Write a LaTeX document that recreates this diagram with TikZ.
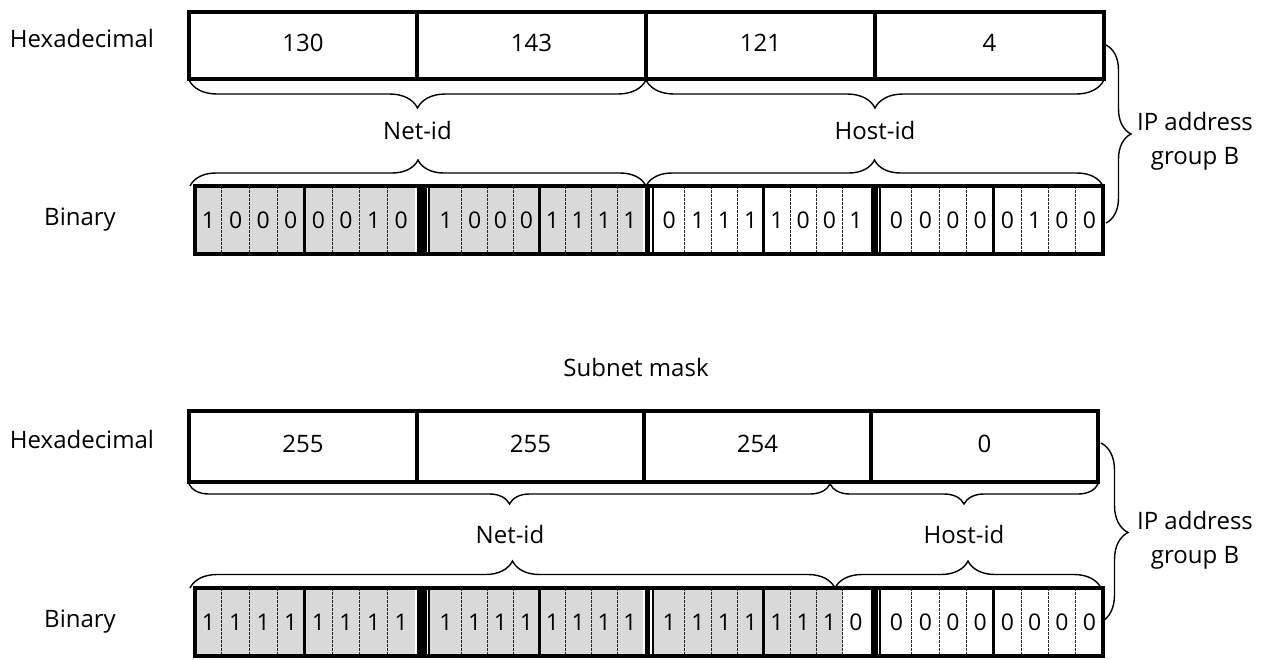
\documentclass[tikz,border=0pt]{standalone}
\usepackage{fontspec}
\setmainfont{Open Sans}
\usetikzlibrary{decorations.pathreplacing}
\definecolor{bitfill}{RGB}{217,217,217}

% One binary row: #1 name prefix, #2 top y, #3 bottom y, #4 number of shaded bits,
% #5-#8 the bits of the four bytes
\newcommand\binrow[8]{%
  \foreach \L/\R/\s/\bits [count=\k from 0] in
      {195/415/27.6/{#5}, 430/643/25.9/{#6}, 653.5/869/26.3/{#7}, 881/1103/27.3/{#8}} {
    \foreach \b [count=\j from 0] in \bits {
      \pgfmathsetmacro\xl{\j==0 ? \L : \R-\s*(8-\j)}
      \pgfmathsetmacro\xr{\R-\s*(7-\j)}
      \pgfmathtruncatemacro\idx{8*\k+\j}
      \ifnum\idx<#4 \fill[bitfill] (\xl,#2) rectangle (\xr,#3);\fi
      \node[digit] (#1-\idx) at ({(\xl+\xr)/2},{(#2+#3)/2}) {\b};
      \ifnum\j>0
        \ifnum\j=4
          \draw[nibble] (\xl,#2) -- (\xl,#3);
        \else
          \draw[bitdash] (\xl,#2) -- (\xl,#3);
        \fi
      \fi
    }
  }
  % byte separators: thick bar, thin white gap, thin bar
  \foreach \a/\c in {415/430, 643/653.5, 869/881} {
    \fill[black] (\a+1.5,#2) rectangle (\c-3.5,#3);
    \fill[black] (\c-2,#2) rectangle (\c,#3);
  }
  \draw[frame] (195,#2) rectangle (1103,#3);
}

\begin{document}
\begin{tikzpicture}[x=1pt,y=-1pt,
  lbl/.style={font=\fontsize{24}{30}\selectfont, inner sep=0pt, text height=0.714em, text depth=0pt, yshift=-4pt},
  digit/.style={font=\fontsize{23}{30}\selectfont, inner sep=0pt, text height=0.714em, text depth=0pt, yshift=-5pt},
  side/.style={font=\fontsize{24}{34}\selectfont, inner sep=0pt, align=center, yshift=-5pt},
  frame/.style={line width=4.2pt},
  divider/.style={line width=4.2pt},
  bitdash/.style={line width=1pt, dash pattern=on 2.5pt off 1.5pt, black!85},
  nibble/.style={line width=3pt},
  curly/.style={decorate, decoration={brace, amplitude=#1}, line width=1.4pt},
]
\useasboundingbox (0,0) rectangle (1272,659);

% ---------------- IP address ----------------
\node[lbl] (hexA) at (82,40) {Hexadecimal};
\node[lbl] (binA) at (80,218) {Binary};

\draw[frame] (189,12) rectangle (1104,79);
\foreach \x in {417,646,875} \draw[divider] (\x,12) -- (\x,79);
\node[lbl] (hA1) at (303,43.5) {130};
\node[lbl] (hA2) at (531.5,43.5) {143};
\node[lbl] (hA3) at (760.5,43.5) {121};
\node[lbl] (hA4) at (989.5,43.5) {4};

\binrow{bA}{186}{254}{16}{1,0,0,0,0,0,1,0}{1,0,0,0,1,1,1,1}{0,1,1,1,1,0,0,1}{0,0,0,0,0,1,0,0}

\coordinate (nAu1) at (189,80);  \coordinate (nAu2) at (646,80);
\coordinate (hAu2) at (1104,80);
\coordinate (nAl1) at (190,186); \coordinate (nAl2) at (646,186);
\coordinate (hAl2) at (1103,186);
\draw[curly=28pt] (nAu2) -- (nAu1);
\draw[curly=28pt] (hAu2) -- (nAu2);
\draw[curly=26pt] (nAl1) -- (nAl2);
\draw[curly=26pt] (nAl2) -- (hAl2);
\node[lbl] (netA) at (417.5,132) {Net-id};
\node[lbl] (hostA) at (875,132) {Host-id};

\coordinate (gAt) at (1106,45); \coordinate (gAb) at (1106,223);
\draw[curly=25pt] (gAt) -- (gAb);
\node[side] (grpA) at (1195,136) {IP address\\group B};

% ---------------- Subnet mask ----------------
\node[lbl] (mask) at (636,369) {Subnet mask};

\node[lbl] (hexB) at (82,441) {Hexadecimal};
\node[lbl] (binB) at (80,620) {Binary};

\draw[frame] (189,411) rectangle (1098,482);
\foreach \x in {417,644,871} \draw[divider] (\x,411) -- (\x,482);
\node[lbl] (hB1) at (303,445) {255};
\node[lbl] (hB2) at (530.5,445) {255};
\node[lbl] (hB3) at (757.5,445) {254};
\node[lbl] (hB4) at (984.5,445) {0};

\binrow{bB}{588}{656}{23}{1,1,1,1,1,1,1,1}{1,1,1,1,1,1,1,1}{1,1,1,1,1,1,1,0}{0,0,0,0,0,0,0,0}

\coordinate (nBu1) at (189,484);  \coordinate (nBu2) at (830,484);
\coordinate (hBu2) at (1098,484);
\coordinate (nBl1) at (190,588); \coordinate (nBl2) at (835,588);
\coordinate (hBl2) at (1101,588);
\draw[curly=20pt] (nBu2) -- (nBu1);
\draw[curly=20pt] (hBu2) -- (nBu2);
\draw[curly=27pt] (nBl1) -- (nBl2);
\draw[curly=27pt] (nBl2) -- (hBl2);
\node[lbl] (netB) at (510,536) {Net-id};
\node[lbl] (hostB) at (964,536) {Host-id};

\coordinate (gBt) at (1101,443); \coordinate (gBb) at (1101,622);
\draw[curly=27pt] (gBt) -- (gBb);
\node[side] (grpB) at (1195,535) {IP address\\group B};
\end{tikzpicture}
\end{document}
